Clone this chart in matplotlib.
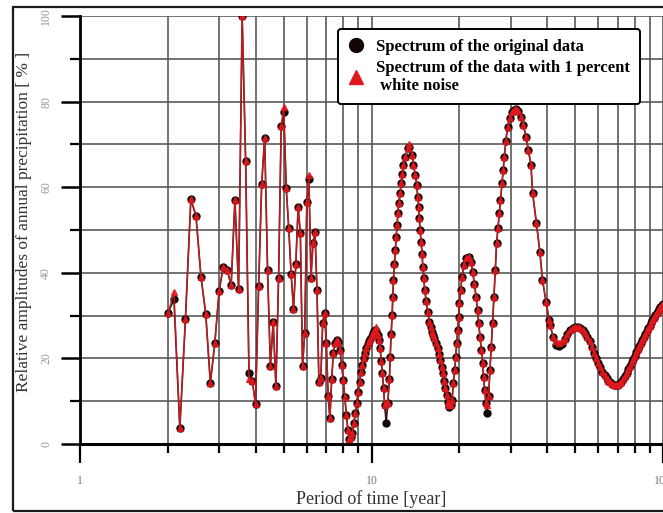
import numpy as np
import matplotlib
matplotlib.use("Agg")
import matplotlib.pyplot as plt
from matplotlib.patches import Rectangle
from matplotlib.ticker import FixedLocator, NullFormatter, FixedFormatter

plt.rcParams['font.family'] = ['Liberation Serif', 'DejaVu Serif']

# period of time [year]
periods = [
    2.0, 2.1, 2.2, 2.3, 2.4, 2.5, 2.6, 2.7, 2.8, 2.9,
    3.0, 3.1, 3.2, 3.3, 3.4, 3.5, 3.6, 3.7, 3.8, 3.9,
    4.0, 4.1, 4.2, 4.3, 4.4, 4.5, 4.6, 4.7, 4.8, 4.9,
    5.0, 5.1, 5.2, 5.3, 5.4, 5.5, 5.6, 5.7, 5.8, 5.9,
    6.0, 6.1, 6.2, 6.3, 6.4, 6.5, 6.6, 6.7, 6.8, 6.9,
    7.0, 7.1, 7.2, 7.3, 7.4, 7.5, 7.6, 7.7, 7.8, 7.9,
    8.0, 8.1, 8.2, 8.3, 8.4, 8.5, 8.6, 8.7, 8.8, 8.9,
    9.0, 9.1, 9.2, 9.3, 9.4, 9.5, 9.6, 9.7, 9.8, 9.9,
    10.0, 10.1, 10.2, 10.3, 10.4, 10.5, 10.6, 10.7, 10.8, 10.9,
    11.0, 11.1,
    11.23, 11.37, 11.52, 11.59, 11.68, 11.77, 11.83, 11.89, 11.99, 12.08,
    12.15, 12.25, 12.31, 12.40, 12.54, 12.64, 12.74, 12.87, 13.07, 13.31,
    13.49, 13.78, 13.92, 14.14, 14.29, 14.41, 14.52, 14.60, 14.68, 14.80,
    14.92, 14.99, 15.11, 15.23, 15.39, 15.59, 15.80, 15.95, 16.09, 16.25,
    16.44, 16.65, 16.87, 17.05, 17.23, 17.40, 17.55, 17.75, 17.92, 18.10,
    18.25, 18.40, 18.50, 18.70, 18.90, 19.09, 19.29, 19.44, 19.60, 19.75,
    19.91, 20.02, 20.22, 20.45, 20.71, 21.10, 21.54, 21.95, 22.23, 22.53,
    22.84, 23.12, 23.31, 23.57, 23.81, 24.05, 24.24, 24.43, 24.70, 24.82,
    25.21, 25.49, 25.76, 26.02, 26.31, 26.59, 26.86, 27.16, 27.44, 27.70,
    28.03, 28.30, 28.55, 28.90, 29.30, 29.80, 30.33, 30.80, 31.30, 31.90,
    32.56, 33.20, 33.87, 34.50, 35.24, 35.70, 36.80, 37.80, 38.60, 39.70,
    40.70,
    41, 42, 43, 44, 45, 46, 47, 48, 49, 50,
    51, 52, 53, 54, 55, 56, 57, 58, 59, 60,
    61, 62, 63, 64, 65, 66, 67, 68, 69, 70,
    71, 72, 73, 74, 75, 76, 77, 78, 79, 80,
    81, 82, 83, 84, 85, 86, 87, 88, 89, 90,
    91, 92, 93, 94, 95, 96, 97, 98, 99, 100,
]

# spectrum of the original data [%]
amp_original = [
    30.5, 33.8, 3.7, 29.2, 57.2, 53.3, 39.1, 30.4, 14.3, 23.5,
    35.7, 41.4, 40.6, 37.1, 57.0, 36.2, 100.0, 66.2, 16.5, 14.8,
    9.3, 36.9, 60.7, 71.6, 40.6, 18.2, 28.5, 13.6, 38.9, 74.3,
    77.6, 59.7, 50.5, 39.7, 31.6, 42.0, 55.3, 49.4, 18.2, 25.9,
    56.5, 61.8, 38.9, 47.0, 49.6, 36.0, 14.6, 15.5, 28.2, 30.7,
    23.5, 11.1, 6.0, 15.1, 21.3, 23.6, 24.3, 23.8, 22.0, 18.5,
    15.0, 10.9, 6.8, 3.3, 1.1, 1.6, 2.5, 4.8, 7.2, 9.5,
    12.2, 14.6, 16.9, 18.5, 20.0, 21.2, 22.4, 23.3, 24.0, 24.6,
    25.3, 25.9, 26.3, 26.7, 26.5, 25.4, 24.3, 22.5, 19.5, 16.5,
    13.0, 9.0,
    5.0, 9.6, 15.1, 20.4, 25.7, 30.1, 34.4, 38.3, 42.0, 45.3,
    48.4, 51.2, 53.9, 56.2, 58.6, 60.9, 63.1, 65.2, 67.1, 69.1,
    69.5, 67.5, 65.2, 62.9, 60.5, 57.8, 55.3, 52.8, 50.0, 47.3,
    44.4, 41.4, 38.7, 36.0, 33.5, 30.9, 28.6, 27.4, 26.2, 25.5,
    24.7, 23.7, 22.4, 21.0, 19.6, 18.0, 16.5, 14.7, 13.0, 11.4,
    9.9, 9.0, 8.7, 9.2, 10.3, 14.2, 17.3, 20.4, 23.5, 26.6,
    29.7, 32.9, 36.0, 39.1, 41.8, 43.4, 43.8, 42.6, 40.3, 37.5,
    34.4, 31.3, 28.2, 25.1, 22.0, 18.9, 15.7, 12.6, 9.5, 7.2,
    11.1, 17.3, 22.7, 28.2, 34.4, 40.7, 46.9, 50.5, 53.9, 57.0,
    60.9, 64.0, 67.1, 70.8, 74.1, 76.2, 77.6, 78.1, 78.2, 77.7,
    76.5, 74.5, 71.8, 68.8, 65.2, 58.6, 51.6, 44.9, 38.3, 33.2,
    29.0,
    27.8, 25.0, 23.2, 22.8, 23.3, 24.6, 25.8, 26.7, 27.2, 27.4,
    27.4, 27.1, 26.6, 26.0, 25.1, 24.0, 22.6, 21.3, 20.2, 19.0,
    17.9, 16.9, 16.1, 15.4, 14.8, 14.4, 14.1, 13.9, 13.8, 13.9,
    14.2, 14.6, 15.2, 15.9, 16.7, 17.5, 18.3, 19.1, 19.9, 20.6,
    21.4, 22.1, 22.8, 23.5, 24.2, 24.9, 25.6, 26.3, 27.0, 27.6,
    28.2, 28.9, 29.5, 30.1, 30.6, 31.1, 31.6, 32.0, 32.4, 32.8,
]

# where the spectrum with 1 % white noise visibly differs (period: value)
noise_diff = {
    2.1: 35.5, 3.8: 15.2, 5.0: 78.8, 6.1: 62.8, 10.4: 27.3,
    11.23: 9.5, 13.49: 70.0, 18.50: 9.5, 24.82: 9.0,
    43: 24.0, 44: 23.6, 45: 24.0,
}
amp_noise = [noise_diff.get(p, a) for p, a in zip(periods, amp_original)]

fig = plt.figure(figsize=(6.63, 5.13), dpi=100)
ax = fig.add_axes([80 / 663, 69 / 513, 583 / 663, 428 / 513])

ax.plot(periods, amp_original, color='#3a1414', lw=1.2, marker='o', ms=5.0,
        mfc='#140606', mec='#140606', zorder=3)
ax.plot(periods, amp_noise, color='#d81c20', lw=1.0, marker='^', ms=4.2,
        mfc='#e0191e', mec='#e0191e', alpha=0.85, zorder=4)

ax.set_xscale('log')
ax.set_xlim(1, 100)
ax.set_ylim(0, 100)

xmin = [2, 3, 4, 5, 6, 7, 8, 9, 20, 30, 40, 50, 60, 70, 80, 90]
ax.xaxis.set_major_locator(FixedLocator([1, 10, 100]))
ax.xaxis.set_major_formatter(FixedFormatter(['1', '10', '100']))
ax.xaxis.set_minor_locator(FixedLocator(xmin))
ax.xaxis.set_minor_formatter(NullFormatter())
ax.yaxis.set_major_locator(FixedLocator([0, 20, 40, 60, 80, 100]))
ax.yaxis.set_minor_locator(FixedLocator([10, 30, 50, 70, 90]))

ax.grid(True, which='both', color='#5a5a5a', lw=1.2, zorder=0)
ax.set_axisbelow(True)

for s in ['top', 'right']:
    ax.spines[s].set_visible(False)
ax.spines['left'].set_linewidth(2.0)
ax.spines['bottom'].set_linewidth(2.2)

ax.tick_params(axis='x', which='major', length=14, width=1.6, pad=8,
               labelsize=8.5, labelcolor='#777777')
ax.tick_params(axis='x', which='minor', length=6.5, width=1.6)
ax.tick_params(axis='y', which='major', length=14, width=1.8, pad=6,
               labelsize=8.5, labelcolor='#999999', labelrotation=90)
ax.tick_params(axis='y', which='minor', length=7, width=1.6)
for lab in ax.get_yticklabels():
    lab.set_va('center')

ax.set_xlabel('Period of time [year]', fontsize=13, color='#333333')
ax.xaxis.set_label_coords(0.5, -0.108)
ax.set_ylabel('Relative amplitudes of annual precipitation [ % ]',
              fontsize=12.5, color='#333333')
ax.yaxis.set_label_coords(-0.083, 0.52)

leg = ax.legend(['Spectrum of the original data',
                 'Spectrum of the data with 1 percent\n white noise'],
                loc='upper right', bbox_to_anchor=(0.975, 0.99),
                fancybox=True, framealpha=1, edgecolor='black',
                prop={'weight': 'bold', 'size': 12}, handlelength=1.0,
                handletextpad=0.7, borderpad=0.6, labelspacing=0.3)
leg.get_frame().set_linewidth(1.4)
for h in leg.legend_handles:
    h.set_linestyle('none')
    h.set_markersize(10)
    h.set_alpha(1)

fig.add_artist(Rectangle((12.5 / 663, 2 / 513), 1.0, 504 / 513,
                         transform=fig.transFigure, fill=False,
                         edgecolor='#1a1a1a', lw=1.6))

fig.savefig('out.png', dpi=100)
